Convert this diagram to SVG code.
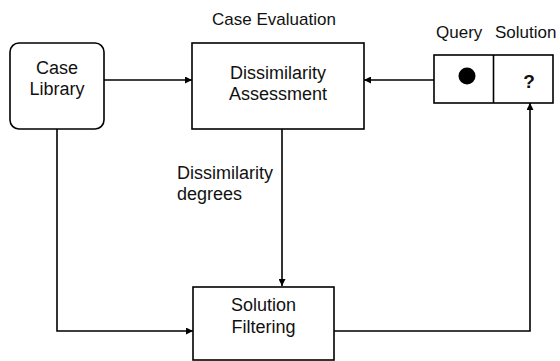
<svg xmlns="http://www.w3.org/2000/svg" width="560" height="361" viewBox="0 0 560 361">
<defs>
<marker id="arr" viewBox="0 0 10 10" refX="10" refY="5" markerWidth="7" markerHeight="7" markerUnits="userSpaceOnUse" orient="auto">
<path d="M0,0 L10,5 L0,10 z" fill="#000"/>
</marker>
</defs>
<style>
.box{fill:#fff;stroke:#000;stroke-width:1.6}
.t{font-family:"Liberation Sans",Arial,sans-serif;font-size:18px;fill:#111}
.s{font-size:17px}
.c{text-anchor:middle}
.ln{fill:none;stroke:#000;stroke-width:1.6}
</style>
<rect width="560" height="361" fill="#fff"/>
<g id="case-library">
<rect class="box" x="10" y="43" width="94" height="86" rx="9"/>
<text class="t c" x="57" y="74">Case</text>
<text class="t c" x="57" y="95">Library</text>
</g>
<g id="case-evaluation-label">
<text class="t s c" x="274" y="25">Case Evaluation</text>
</g>
<g id="dissimilarity-assessment">
<rect class="box" x="192" y="43" width="172" height="86"/>
<text class="t c" x="278" y="79">Dissimilarity</text>
<text class="t c" x="278" y="100">Assessment</text>
</g>
<g id="query-solution">
<text class="t s" x="436" y="38">Query</text>
<text class="t s" x="495" y="38">Solution</text>
<rect class="box" x="434" y="55" width="119" height="48"/>
<line class="ln" x1="493.5" y1="55" x2="493.5" y2="103"/>
<circle cx="467" cy="76" r="8.5" fill="#000"/>
<text class="t c" x="529" y="88" style="font-size:19px;font-weight:bold">?</text>
</g>
<g id="solution-filtering">
<rect class="box" x="193" y="287" width="141" height="73"/>
<text class="t c" x="263.5" y="311">Solution</text>
<text class="t c" x="263.5" y="333">Filtering</text>
</g>
<g id="connectors">
<line class="ln" x1="104" y1="80" x2="192" y2="80" marker-end="url(#arr)"/>
<line class="ln" x1="434" y1="80" x2="364" y2="80" marker-end="url(#arr)"/>
<line class="ln" x1="282" y1="129" x2="282" y2="286" marker-end="url(#arr)"/>
<polyline class="ln" points="57,129 57,331 193,331" marker-end="url(#arr)"/>
<polyline class="ln" points="334,331 530,331 530,103" marker-end="url(#arr)"/>
<text class="t" x="177" y="179">Dissimilarity</text>
<text class="t" x="177" y="200">degrees</text>
</g>
</svg>
